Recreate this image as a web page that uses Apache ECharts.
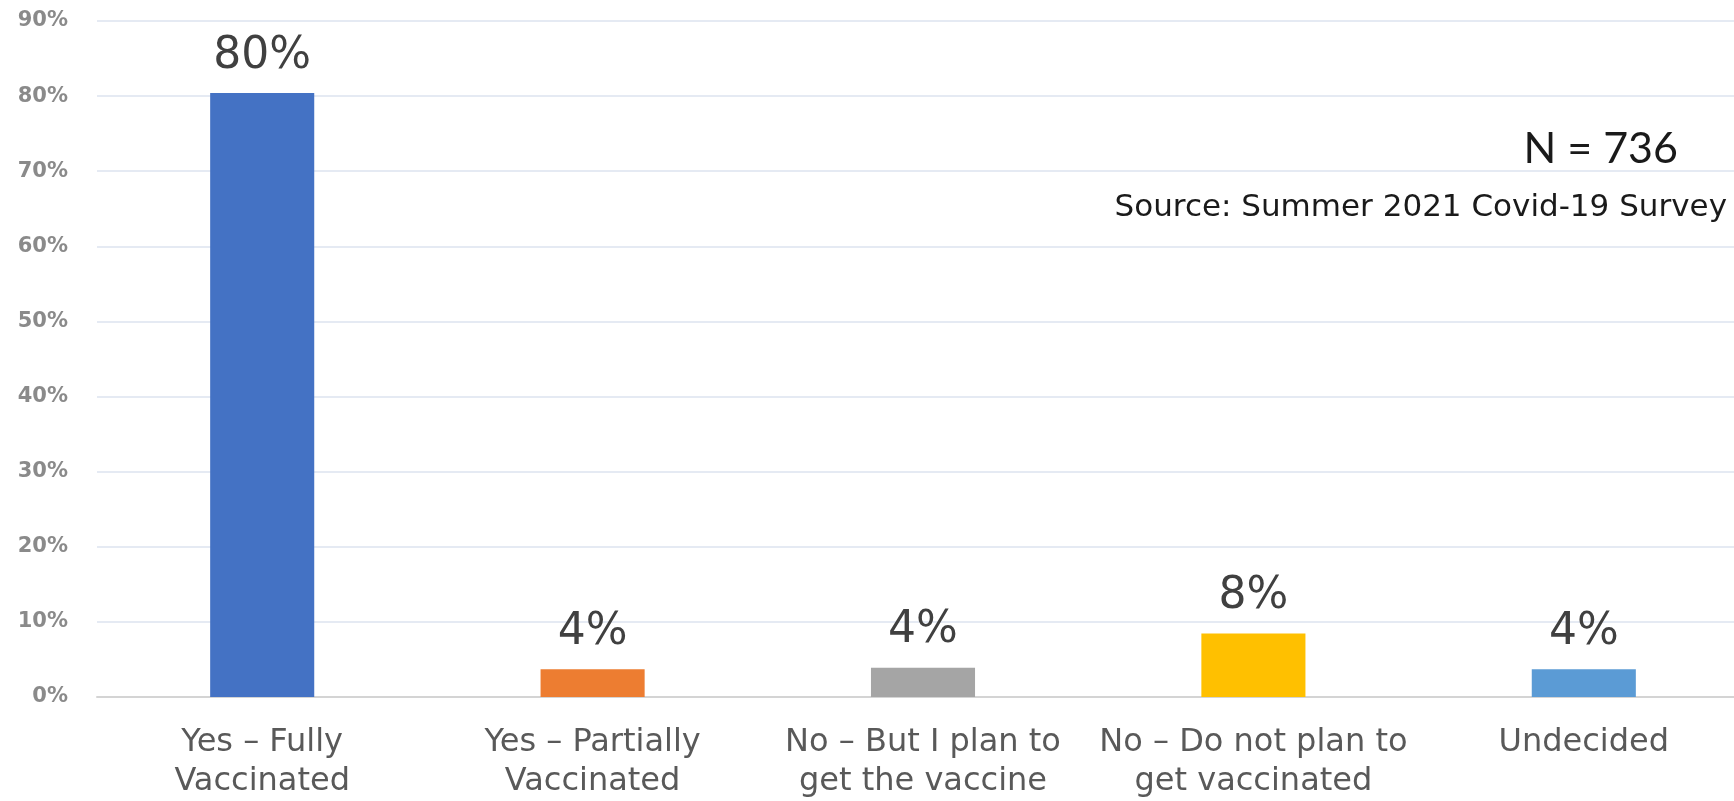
<!DOCTYPE html>
<html>
<head>
<meta charset="utf-8">
<script src="https://cdn.jsdelivr.net/npm/echarts@6/dist/echarts.min.js"></script>
<style>
  html, body { margin: 0; padding: 0; background: #ffffff; }
  #chart { width: 1734px; height: 801px; }
</style>
</head>
<body>
<div id="chart"></div>
<script>
// Vaccination status responses (share of respondents, %)
const categories = [
  'Yes \u2013 Fully\nVaccinated',
  'Yes \u2013 Partially\nVaccinated',
  'No \u2013 But I plan to\nget the vaccine',
  'No \u2013 Do not plan to\nget vaccinated',
  'Undecided'
];
const shares = [80.4, 3.7, 3.9, 8.45, 3.7];
const barColors = ['#4472C4', '#ED7D31', '#A5A5A5', '#FFC000', '#5B9BD5'];
const yTicks = { min: 0, max: 90, step: 10 };
const sampleNote = 'N = 736';
const sourceNote = 'Source: Summer 2021 Covid-19 Survey';

const chart = echarts.init(document.getElementById('chart'), null, { renderer: 'canvas' });

chart.setOption({
  backgroundColor: '#ffffff',
  animation: false,
  grid: {
    left: 97,
    right: -15,
    top: 21,
    bottom: 104,
    containLabel: false,
    outerBoundsMode: 'none'
  },
  xAxis: {
    type: 'category',
    data: categories,
    axisLine: { show: true, lineStyle: { color: '#D4D4D4', width: 2 } },
    axisTick: { show: false },
    axisLabel: {
      interval: 0,
      margin: 26,
      fontFamily: 'DejaVu Sans',
      fontSize: 32,
      lineHeight: 39,
      color: '#595959'
    }
  },
  yAxis: {
    type: 'value',
    min: yTicks.min,
    max: yTicks.max,
    interval: yTicks.step,
    axisLine: { show: false },
    axisTick: { show: false },
    splitLine: { lineStyle: { color: '#DCE3EF', width: 1.5 } },
    axisLabel: {
      margin: 29,
      fontFamily: 'DejaVu Sans',
      fontWeight: 'bold',
      fontSize: 21,
      color: '#8A8A8A',
      formatter: v => v + '%'
    }
  },
  series: [{
    type: 'bar',
    data: shares.map((v, i) => ({ value: v, itemStyle: { color: barColors[i] } })),
    barWidth: '31.5%',
    label: {
      show: true,
      position: 'top',
      distance: 15,
      fontFamily: 'DejaVu Sans',
      fontSize: 44,
      color: '#404040',
      formatter: p => Math.round(p.value) + '%'
    }
  }],
  graphic: [
    {
      type: 'text',
      x: 1678,
      y: 149,
      style: {
        text: sampleNote,
        fontFamily: 'Lato',
        fontSize: 43,
        fill: '#1A1A1A',
        align: 'right',
        verticalAlign: 'middle'
      }
    },
    {
      type: 'text',
      x: 1727,
      y: 208,
      style: {
        text: sourceNote,
        fontFamily: 'DejaVu Sans',
        fontSize: 31,
        fill: '#1A1A1A',
        align: 'right',
        verticalAlign: 'middle'
      }
    }
  ]
});
</script>
</body>
</html>
